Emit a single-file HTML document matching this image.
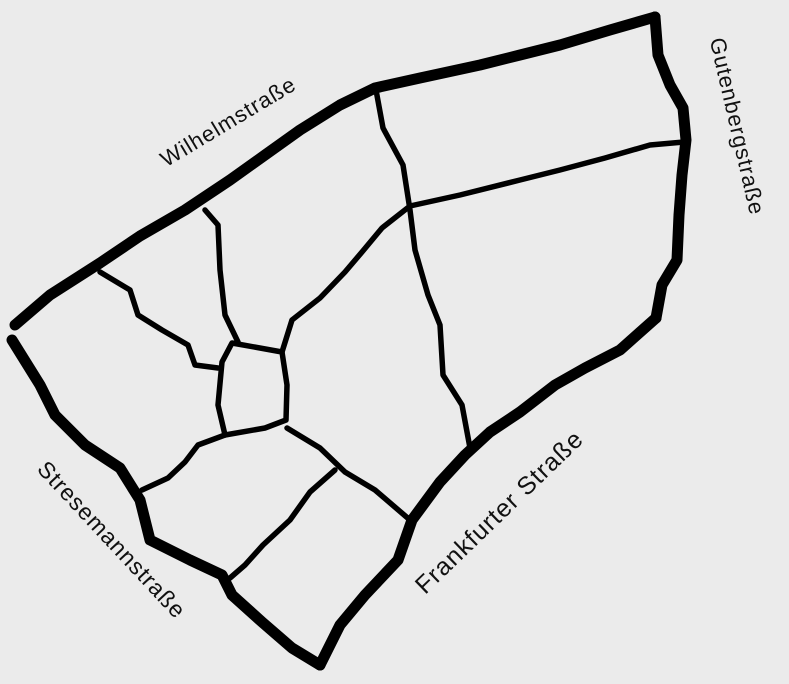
<!DOCTYPE html>
<html><head><meta charset="utf-8"><style>
html,body{margin:0;padding:0;background:#ebebeb;}
svg{display:block}
text{font-family:"Liberation Sans","DejaVu Sans",sans-serif;font-size:22px;fill:#111;letter-spacing:1px}
</style></head><body>
<svg width="789" height="684" viewBox="0 0 789 684">
<rect width="789" height="684" fill="#ebebeb"/>
<g fill="none" stroke="#000" stroke-linecap="round" stroke-linejoin="round">
<path stroke-width="11" d="M15,325 L50,295 L100,263 L140,236 L185,210 L230,180 L265,155 L300,130 L340,105 L375,88 L420,78 L480,65 L520,55 L560,45 L610,30 L655,17"/>
<path stroke-width="11" d="M655,17 L658,55 L670,85 L683,108 L686,140 L682,175 L679,215 L677,260 L662,285 L656,318"/>
<path stroke-width="11" d="M656,318 L620,350 L585,368 L555,385 L520,412 L490,432 L465,455 L440,482 L412,520 L398,560 L365,595 L340,625 L320,665"/>
<path stroke-width="11" d="M320,665 L292,648 L262,622 L232,595 L222,575 L190,560 L150,540 L140,500 L120,468 L85,445 L55,415 L40,385 L12,340"/>
<g stroke-width="5.5">
<path d="M376,90 L383,128 L403,165 L410,210 L415,250 L428,295 L440,325 L443,375 L462,405 L470,448"/>
<path d="M410,206 L460,195 L520,180 L560,170 L605,158 L650,145 L684,142"/>
<path d="M410,206 L382,228 L362,252 L345,272 L320,298 L292,320 L282,352"/>
<path d="M232,343 L282,352 L287,385 L286,420 L265,428 L225,435 L218,405 L222,362 Z"/>
<path d="M205,210 L218,225 L220,270 L225,315 L238,342"/>
<path d="M100,272 L130,290 L138,315 L162,330 L188,345 L195,365 L218,368"/>
<path d="M225,435 L198,445 L185,462 L168,478 L142,490"/>
<path d="M287,428 L320,448 L345,472 L375,490 L410,520"/>
<path d="M335,470 L310,492 L290,520 L263,545 L245,565 L230,578"/>
</g>
</g>
<text transform="translate(232,128) rotate(-31)" text-anchor="middle">Wilhelmstraße</text>
<text transform="translate(730,128) rotate(77)" text-anchor="middle">Gutenbergstraße</text>
<text transform="translate(106,545) rotate(47)" text-anchor="middle" style="font-size:23px">Stresemannstraße</text>
<text transform="translate(505,518) rotate(-44)" text-anchor="middle" style="font-size:25px">Frankfurter Straße</text>
</svg>
</body></html>
